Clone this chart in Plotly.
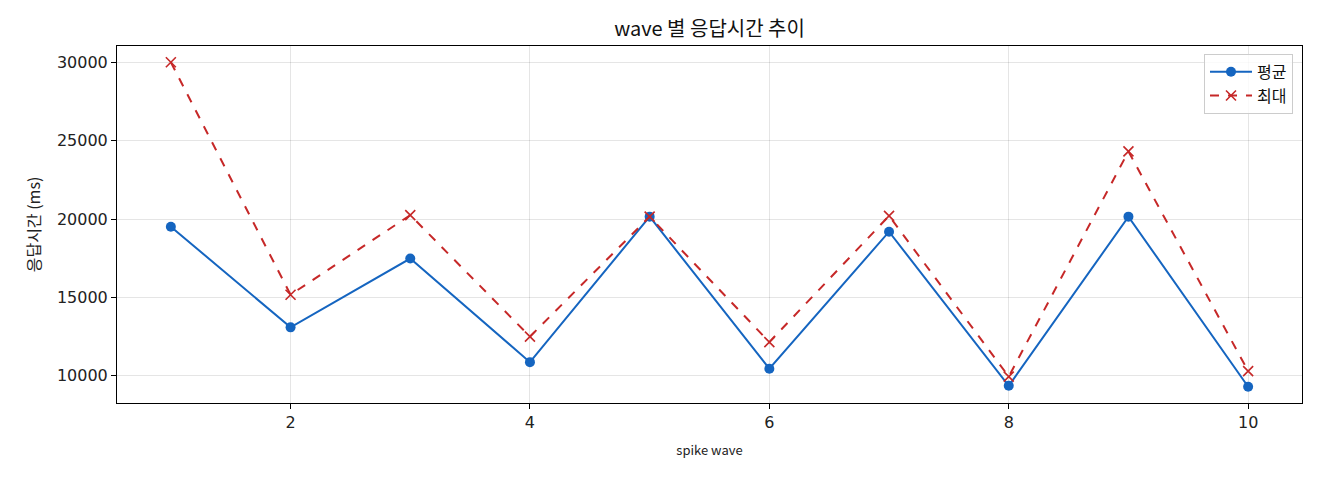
import plotly.graph_objects as go

waves = [1, 2, 3, 4, 5, 6, 7, 8, 9, 10]
avg_ms = [19510, 13090, 17480, 10870, 20150, 10450, 19190, 9360, 20150, 9300]
max_ms = [30000, 15170, 20250, 12500, 20150, 12150, 20200, 9950, 24310, 10300]
x_ticks = [2, 4, 6, 8, 10]
y_ticks = [10000, 15000, 20000, 25000, 30000]

FONT = "Noto Sans CJK KR"
NUMFONT = "DejaVu Sans"

fig = go.Figure()
fig.add_trace(go.Scatter(
    x=waves, y=avg_ms, name="평균", mode="lines+markers",
    line=dict(color="#1565C0", width=2),
    marker=dict(symbol="circle", size=10, color="#1565C0"),
))
fig.add_trace(go.Scatter(
    x=waves, y=max_ms, name="최대", mode="lines+markers",
    line=dict(color="#C62828", width=2, dash="dash"),
    marker=dict(symbol="x-thin", size=10, line=dict(color="#C62828", width=1.6)),
))

axis_common = dict(
    showline=True, linecolor="black", linewidth=1, mirror=True,
    ticks="outside", ticklen=5, tickcolor="black", tickwidth=1,
    showgrid=True, gridcolor="rgba(0,0,0,0.1)", gridwidth=1,
    zeroline=False, automargin=False,
    tickfont=dict(family=NUMFONT, size=16, color="#222"),
)

# page body has an 8px offset; margins compensate so the plot area lands at 117..1302 x 46..403
fig.update_layout(
    width=1320, height=480,
    margin=dict(l=109, r=26, t=38, b=85),
    plot_bgcolor="white", paper_bgcolor="white",
    title=dict(text="wave 별 응답시간 추이", x=(117 + 1302) / 2 / 1320 - 8 / 1320, xanchor="center",
               y=1 - 21 / 480, yanchor="middle",
               font=dict(family=FONT, size=20, color="#111")),
    xaxis=dict(range=[0.55, 10.45], tickvals=x_ticks, tickformat="d",
               title=dict(text="spike wave", font=dict(family=FONT, size=13, color="#222"), standoff=14),
               **axis_common),
    yaxis=dict(range=[8265, 31035], tickvals=y_ticks, tickformat="d",
               title=dict(text="응답시간 (ms)", font=dict(family=FONT, size=16, color="#222"), standoff=12),
               **axis_common),
    legend=dict(x=0.9924, y=0.978, xanchor="right", yanchor="top",
                bgcolor="rgba(255,255,255,0.8)", bordercolor="#ccc", borderwidth=1,
                itemwidth=42,
                font=dict(family=FONT, size=16, color="#111")),
    showlegend=True,
)

fig.write_html("out.html")
